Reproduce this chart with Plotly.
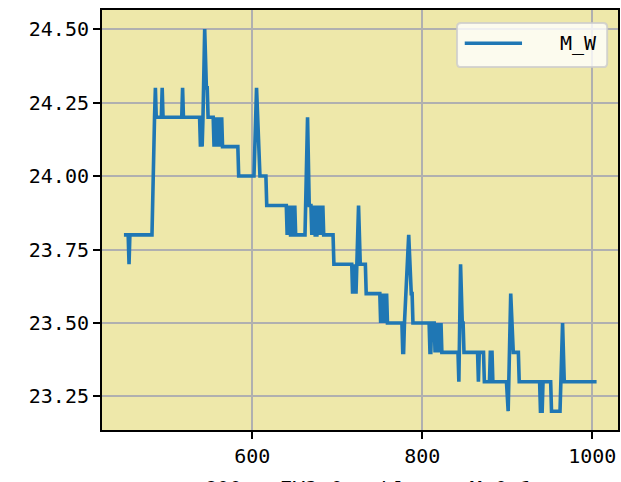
import plotly.graph_objects as go

# change-point vertices of the M_W series (x index, value)
x_vals = [449, 454, 455, 456, 482, 484, 485, 486, 487, 493, 494, 495, 517, 518, 519,
          538, 539, 540, 541, 542, 544, 546, 547, 548, 554, 555, 556, 557, 558, 559,
          560, 561, 562, 563, 564, 565, 583, 584, 602, 605, 607, 608, 609, 616, 617,
          640, 641, 642, 643, 644, 645, 647, 648, 649, 650, 651, 662, 665, 667, 669,
          670, 671, 672, 673, 674, 676, 677, 678, 679, 680, 681, 682, 683, 684, 695,
          696, 717, 718, 719, 720, 721, 722, 723, 725, 727, 733, 734, 750, 751, 752,
          753, 754, 755, 756, 757, 758, 759, 776, 777, 778, 779, 784, 787, 788, 789,
          808, 809, 810, 811, 814, 815, 816, 817, 818, 819, 820, 821, 822, 823, 842,
          843, 845, 847, 848, 849, 865, 866, 867, 872, 873, 879, 880, 882, 883, 899,
          901, 904, 907, 913, 914, 938, 939, 941, 942, 951, 952, 962, 965, 967, 1005]
y_vals = [23.8, 23.8, 23.7, 23.8, 23.8, 24.2, 24.2, 24.3, 24.2, 24.2, 24.3, 24.2, 24.2, 24.3, 24.2,
          24.2, 24.1, 24.2, 24.1, 24.2, 24.5, 24.3, 24.3, 24.2, 24.2, 24.1, 24.2, 24.1, 24.2, 24.1,
          24.2, 24.1, 24.2, 24.1, 24.2, 24.1, 24.1, 24.0, 24.0, 24.3, 24.1, 24.1, 24.0, 24.0, 23.9,
          23.9, 23.8, 23.9, 23.8, 23.9, 23.8, 23.8, 23.9, 23.8, 23.9, 23.8, 23.8, 24.2, 23.9, 23.9,
          23.8, 23.9, 23.8, 23.9, 23.8, 23.8, 23.9, 23.8, 23.9, 23.8, 23.9, 23.8, 23.9, 23.8, 23.8,
          23.7, 23.7, 23.6, 23.7, 23.6, 23.7, 23.6, 23.7, 23.9, 23.7, 23.7, 23.6, 23.6, 23.5, 23.6,
          23.5, 23.6, 23.5, 23.6, 23.5, 23.6, 23.5, 23.5, 23.4, 23.4, 23.5, 23.8, 23.6, 23.6, 23.5,
          23.5, 23.4, 23.4, 23.5, 23.5, 23.4, 23.5, 23.4, 23.5, 23.4, 23.5, 23.4, 23.5, 23.4, 23.4,
          23.3, 23.7, 23.5, 23.5, 23.4, 23.4, 23.3, 23.4, 23.4, 23.3, 23.3, 23.4, 23.4, 23.3, 23.3,
          23.2, 23.6, 23.4, 23.4, 23.3, 23.3, 23.2, 23.2, 23.3, 23.3, 23.2, 23.2, 23.5, 23.3, 23.3]

x_ticks = [600, 800, 1000]
y_ticks = [23.25, 23.50, 23.75, 24.00, 24.25, 24.50]
y_tick_text = ["23.25", "23.50", "23.75", "24.00", "24.25", "24.50"]
series_name = "M_W"
x_title = "600 - EV2_0 - bl_t - M_0_1"

FONT = "DejaVu Sans Mono"
LINE_COLOR = "#1f77b4"

fig = go.Figure()
fig.add_trace(go.Scatter(x=x_vals, y=y_vals, mode="lines", name=series_name,
                         line=dict(color=LINE_COLOR, width=3.6), showlegend=False))

# legend box (manual, matplotlib-like)
x0, x1, yb, yt = 0.688, 0.979, 0.864, 0.969
rx, ry = 0.008, 0.0095
path = (f"M {x0+rx},{yt} L {x1-rx},{yt} Q {x1},{yt} {x1},{yt-ry} "
        f"L {x1},{yb+ry} Q {x1},{yb} {x1-rx},{yb} L {x0+rx},{yb} "
        f"Q {x0},{yb} {x0},{yb+ry} L {x0},{yt-ry} Q {x0},{yt} {x0+rx},{yt} Z")
fig.add_shape(type="path", path=path, xref="paper", yref="paper",
              fillcolor="rgba(255,255,255,0.8)", line=dict(color="rgba(204,204,204,0.8)", width=2))
fig.add_shape(type="line", xref="paper", yref="paper", x0=0.703, x1=0.814, y0=0.921, y1=0.921,
              line=dict(color=LINE_COLOR, width=3.6))
fig.add_annotation(x=0.963, y=0.921, xref="paper", yref="paper", text=series_name,
                   showarrow=False, xanchor="right", yanchor="middle",
                   font=dict(family=FONT, size=20, color="black"))

fig.add_annotation(x=(202 - 102) / 516, y=(430 - 490) / 420, xref="paper", yref="paper",
                   text=x_title, showarrow=False, xanchor="left", yanchor="middle",
                   font=dict(family=FONT, size=21, color="black"))

axis_common = dict(showline=True, linecolor="black", linewidth=2, mirror=True,
                   ticks="outside", ticklen=7, tickwidth=2, tickcolor="black",
                   showgrid=True, gridcolor="#b0b0b0", gridwidth=1.5, zeroline=False,
                   tickfont=dict(family=FONT, size=20, color="black"))

fig.update_layout(
    width=621, height=482,
    margin=dict(l=102, r=3, t=10, b=52, autoexpand=False),
    paper_bgcolor="white", plot_bgcolor="#eee8aa",
    xaxis=dict(range=[423.2, 1030.2], tickvals=x_ticks, automargin=False, **axis_common),
    yaxis=dict(range=[23.136, 24.565], tickvals=y_ticks, ticktext=y_tick_text,
               automargin=False, **axis_common),
)

fig.write_html("out.html", config={"displayModeBar": False},
               post_script="document.body.style.margin='0';document.body.style.overflow='hidden';")
